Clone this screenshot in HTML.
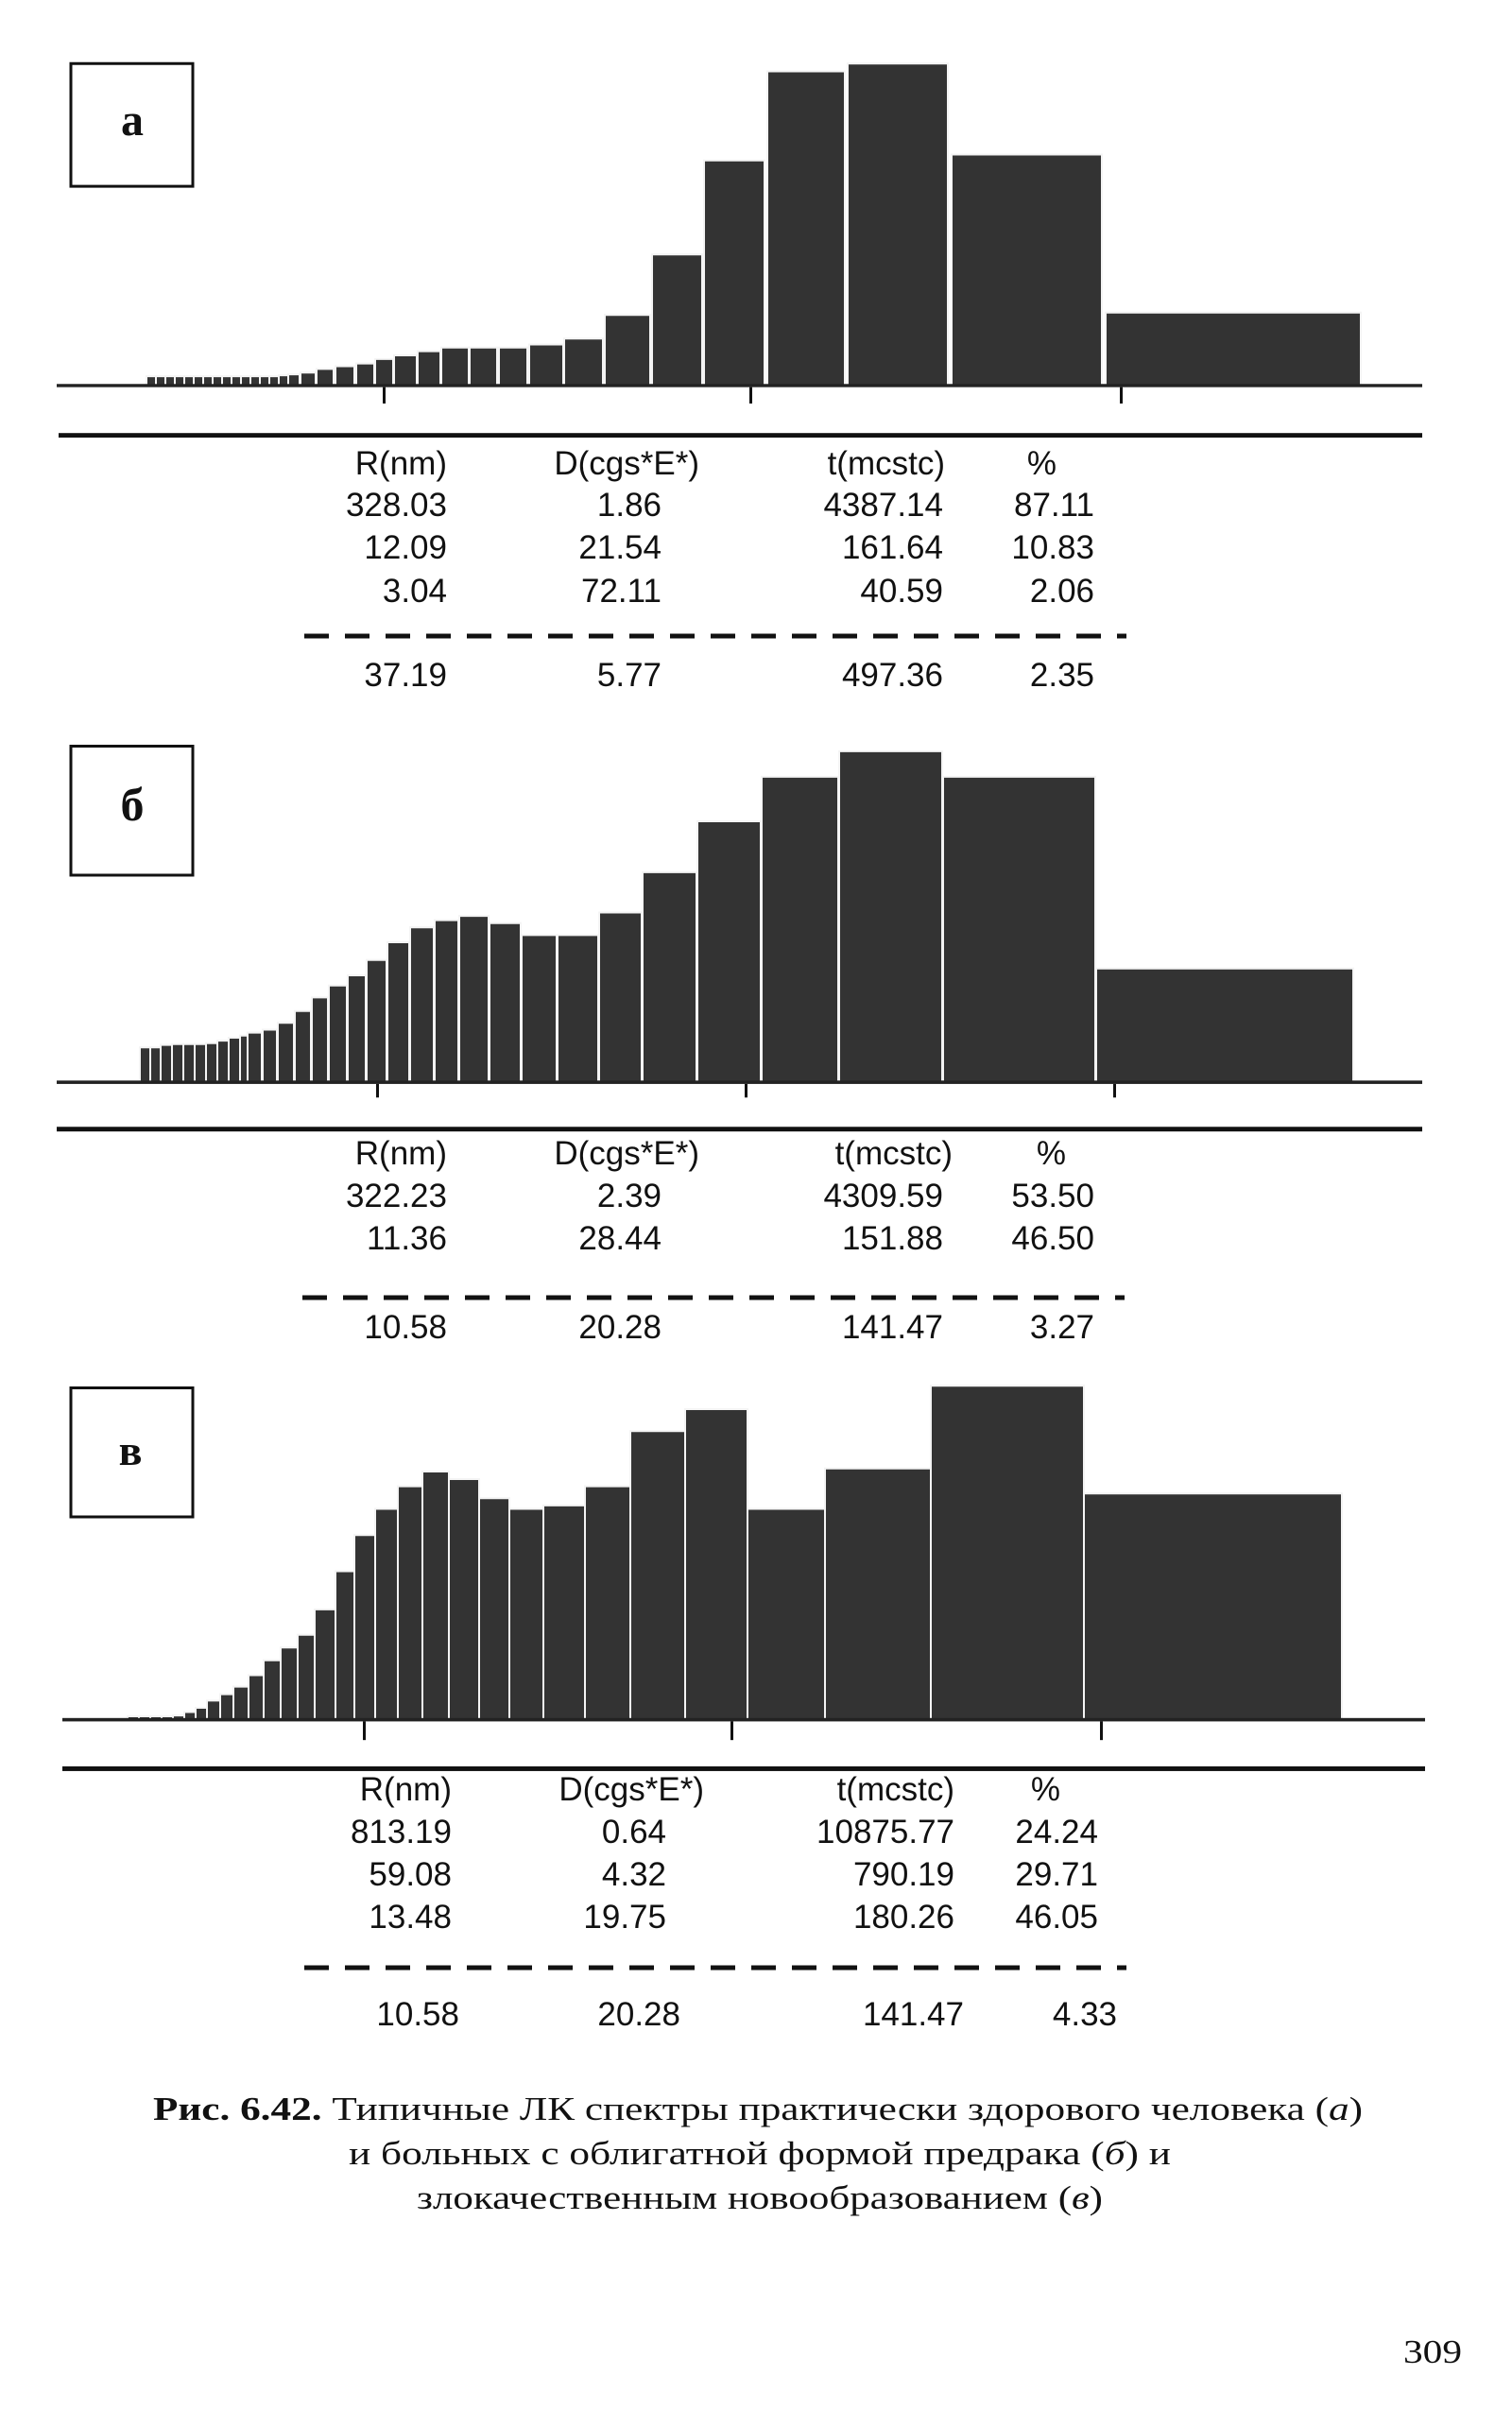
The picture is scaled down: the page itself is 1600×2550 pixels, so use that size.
<!DOCTYPE html>
<html><head><meta charset="utf-8"><style>
html,body{margin:0;padding:0;background:#fff;}
svg{display:block;}
.t{font-family:"Liberation Sans",sans-serif;font-size:35px;fill:#111;text-anchor:end;}
.cap{font-family:"Liberation Serif","Noto Serif CJK SC",serif;font-size:35px;fill:#111;}
.lt{font-family:"Liberation Serif",serif;font-weight:bold;fill:#111;text-anchor:middle;}
.b rect{fill:#333;stroke:#f4f4f4;stroke-width:2;vector-effect:non-scaling-stroke;}
</style></head><body>
<svg width="1600" height="2550" viewBox="0 0 1600 2550" xmlns="http://www.w3.org/2000/svg">
<rect width="1600" height="2550" fill="#fff"/>

<!-- ===== Chart a ===== -->
<g transform="scale(1,0.4808)">
<g class="b">
<rect x="155" y="828" width="10" height="20"/><rect x="165" y="828" width="10" height="20"/><rect x="175" y="828" width="10" height="20"/><rect x="185" y="828" width="10" height="20"/><rect x="195" y="828" width="10" height="20"/><rect x="205" y="828" width="10" height="20"/><rect x="215" y="828" width="10" height="20"/><rect x="225" y="828" width="10" height="20"/><rect x="235" y="828" width="10" height="20"/><rect x="245" y="828" width="10" height="20"/><rect x="255" y="828" width="10" height="20"/><rect x="265" y="828" width="10" height="20"/><rect x="275" y="828" width="10" height="20"/><rect x="285" y="828" width="10" height="20"/><rect x="295" y="826" width="10" height="22"/><rect x="305" y="824" width="12" height="24"/>
<rect x="318" y="820" width="16" height="28"/><rect x="335" y="812" width="18" height="36"/><rect x="355" y="806" width="20" height="42"/><rect x="377" y="800" width="19" height="48"/><rect x="397" y="790" width="19" height="58"/><rect x="417" y="782" width="24" height="66"/><rect x="442" y="773" width="24" height="75"/><rect x="467" y="765" width="29" height="83"/><rect x="497" y="765" width="29" height="83"/><rect x="528" y="765" width="30" height="83"/><rect x="560" y="758" width="36" height="90"/><rect x="597" y="745" width="41" height="103"/><rect x="640" y="693" width="48" height="155"/><rect x="690" y="560" width="53" height="288"/><rect x="745" y="353" width="64" height="495"/><rect x="812" y="157" width="82" height="691"/><rect x="897" y="140" width="106" height="708"/><rect x="1007" y="340" width="159" height="508"/><rect x="1170" y="688" width="270" height="160"/>
</g>
<rect x="60" y="845" width="1445" height="7" fill="#222"/>
<rect x="405" y="852" width="3" height="36" fill="#111"/><rect x="793" y="852" width="3" height="36" fill="#111"/><rect x="1185" y="852" width="3" height="36" fill="#111"/>
<rect x="62" y="953" width="1443" height="10" fill="#111"/>
<rect x="75" y="140" width="129" height="270" fill="#fff" stroke="#111" stroke-width="3" vector-effect="non-scaling-stroke"/>
</g>
<text class="lt" x="140" y="143" font-size="48">a</text>
<g class="t">
<text x="473" y="502">R(nm)</text><text x="740" y="502">D(cgs*E*)</text><text x="1000" y="502">t(mcstc)</text><text x="1118" y="502">%</text>
<text x="473" y="546">328.03</text><text x="700" y="546">1.86</text><text x="998" y="546">4387.14</text><text x="1158" y="546">87.11</text>
<text x="473" y="591">12.09</text><text x="700" y="591">21.54</text><text x="998" y="591">161.64</text><text x="1158" y="591">10.83</text>
<text x="473" y="637">3.04</text><text x="700" y="637">72.11</text><text x="998" y="637">40.59</text><text x="1158" y="637">2.06</text>
<text x="473" y="726">37.19</text><text x="700" y="726">5.77</text><text x="998" y="726">497.36</text><text x="1158" y="726">2.35</text>
</g>
<line x1="322" y1="673" x2="1192" y2="673" stroke="#111" stroke-width="5" stroke-dasharray="26 17"/>

<!-- ===== Chart б ===== -->
<g transform="translate(0,750) scale(1,0.449)">
<g class="b">
<rect x="148" y="798" width="11" height="82"/><rect x="159" y="798" width="11" height="82"/><rect x="170" y="792" width="12" height="88"/><rect x="182" y="790" width="12" height="90"/><rect x="194" y="790" width="12" height="90"/><rect x="206" y="790" width="12" height="90"/><rect x="218" y="788" width="12" height="92"/><rect x="230" y="782" width="12" height="98"/><rect x="242" y="775" width="12" height="105"/>
<rect x="254" y="770" width="8" height="110"/><rect x="262" y="763" width="15" height="117"/><rect x="278" y="756" width="15" height="124"/><rect x="294" y="740" width="17" height="140"/><rect x="312" y="712" width="17" height="168"/><rect x="330" y="680" width="17" height="200"/><rect x="348" y="652" width="19" height="228"/><rect x="368" y="628" width="19" height="252"/><rect x="388" y="592" width="21" height="288"/><rect x="410" y="550" width="23" height="330"/><rect x="434" y="515" width="25" height="365"/><rect x="460" y="498" width="25" height="382"/><rect x="486" y="488" width="31" height="392"/><rect x="518" y="505" width="33" height="375"/><rect x="552" y="533" width="37" height="347"/><rect x="590" y="533" width="43" height="347"/><rect x="634" y="480" width="45" height="400"/><rect x="680" y="385" width="57" height="495"/><rect x="738" y="265" width="67" height="615"/><rect x="806" y="160" width="81" height="720"/><rect x="888" y="100" width="109" height="780"/><rect x="998" y="160" width="161" height="720"/><rect x="1160" y="612" width="272" height="268"/>
</g>
<rect x="60" y="876" width="1445" height="8" fill="#222"/>
<rect x="398" y="884" width="3" height="32" fill="#111"/><rect x="788" y="884" width="3" height="32" fill="#111"/><rect x="1178" y="884" width="3" height="32" fill="#111"/>
<rect x="60" y="985" width="1445" height="11" fill="#111"/>
<rect x="75" y="88" width="129" height="304" fill="#fff" stroke="#111" stroke-width="3" vector-effect="non-scaling-stroke"/>
</g>
<text class="lt" x="140" y="868" font-size="50">б</text>
<g class="t">
<text x="473" y="1232">R(nm)</text><text x="740" y="1232">D(cgs*E*)</text><text x="1008" y="1232">t(mcstc)</text><text x="1128" y="1232">%</text>
<text x="473" y="1277">322.23</text><text x="700" y="1277">2.39</text><text x="998" y="1277">4309.59</text><text x="1158" y="1277">53.50</text>
<text x="473" y="1322">11.36</text><text x="700" y="1322">28.44</text><text x="998" y="1322">151.88</text><text x="1158" y="1322">46.50</text>
<text x="473" y="1416">10.58</text><text x="700" y="1416">20.28</text><text x="998" y="1416">141.47</text><text x="1158" y="1416">3.27</text>
</g>
<line x1="320" y1="1373" x2="1190" y2="1373" stroke="#111" stroke-width="5" stroke-dasharray="26 17"/>

<!-- ===== Chart в ===== -->
<g transform="translate(0,1420) scale(1,0.449)">
<g class="b">
<rect x="135" y="882" width="12" height="8"/><rect x="147" y="882" width="12" height="8"/><rect x="159" y="882" width="12" height="8"/><rect x="171" y="882" width="12" height="8"/><rect x="183" y="880" width="12" height="10"/>
<rect x="195" y="872" width="12" height="18"/><rect x="207" y="862" width="12" height="28"/><rect x="219" y="845" width="14" height="45"/><rect x="233" y="830" width="14" height="60"/><rect x="247" y="812" width="16" height="78"/><rect x="263" y="785" width="16" height="105"/><rect x="279" y="750" width="18" height="140"/><rect x="297" y="720" width="18" height="170"/><rect x="315" y="690" width="18" height="200"/><rect x="333" y="630" width="22" height="260"/><rect x="355" y="540" width="20" height="350"/><rect x="375" y="455" width="22" height="435"/><rect x="397" y="393" width="24" height="497"/><rect x="421" y="340" width="26" height="550"/><rect x="447" y="305" width="28" height="585"/><rect x="475" y="323" width="32" height="567"/><rect x="507" y="368" width="32" height="522"/><rect x="539" y="393" width="36" height="497"/><rect x="575" y="385" width="44" height="505"/><rect x="619" y="340" width="48" height="550"/><rect x="667" y="210" width="58" height="680"/><rect x="725" y="158" width="66" height="732"/><rect x="791" y="393" width="82" height="497"/><rect x="873" y="298" width="112" height="592"/><rect x="985" y="103" width="162" height="787"/><rect x="1147" y="357" width="273" height="533"/>
</g>
<rect x="66" y="886" width="1442" height="8" fill="#222"/>
<rect x="384" y="894" width="3" height="44" fill="#111"/><rect x="773" y="894" width="3" height="44" fill="#111"/><rect x="1164" y="894" width="3" height="44" fill="#111"/>
<rect x="66" y="1000" width="1442" height="11" fill="#111"/>
<rect x="75" y="108" width="129" height="304" fill="#fff" stroke="#111" stroke-width="3" vector-effect="non-scaling-stroke"/>
</g>
<text class="lt" x="138" y="1550" font-size="46">в</text>
<g class="t">
<text x="478" y="1905">R(nm)</text><text x="745" y="1905">D(cgs*E*)</text><text x="1010" y="1905">t(mcstc)</text><text x="1122" y="1905">%</text>
<text x="478" y="1950">813.19</text><text x="705" y="1950">0.64</text><text x="1010" y="1950">10875.77</text><text x="1162" y="1950">24.24</text>
<text x="478" y="1995">59.08</text><text x="705" y="1995">4.32</text><text x="1010" y="1995">790.19</text><text x="1162" y="1995">29.71</text>
<text x="478" y="2040">13.48</text><text x="705" y="2040">19.75</text><text x="1010" y="2040">180.26</text><text x="1162" y="2040">46.05</text>
<text x="486" y="2143">10.58</text><text x="720" y="2143">20.28</text><text x="1020" y="2143">141.47</text><text x="1182" y="2143">4.33</text>
</g>
<line x1="322" y1="2082" x2="1192" y2="2082" stroke="#111" stroke-width="5" stroke-dasharray="26 17"/>

<!-- Caption -->
<text class="cap" x="162" y="2243" textLength="1280" lengthAdjust="spacingAndGlyphs"><tspan font-weight="bold">Рис. 6.42.</tspan> Типичные ЛК спектры практически здорового человека (<tspan font-style="italic">а</tspan>)</text>
<text class="cap" x="369" y="2290" textLength="870" lengthAdjust="spacingAndGlyphs">и больных с облигатной формой предрака (<tspan font-style="italic">б</tspan>) и</text>
<text class="cap" x="441" y="2337" textLength="726" lengthAdjust="spacingAndGlyphs">злокачественным новообразованием (<tspan font-style="italic">в</tspan>)</text>
<text class="cap" x="1485" y="2500" textLength="62" lengthAdjust="spacingAndGlyphs">309</text>
</svg>
</body></html>
